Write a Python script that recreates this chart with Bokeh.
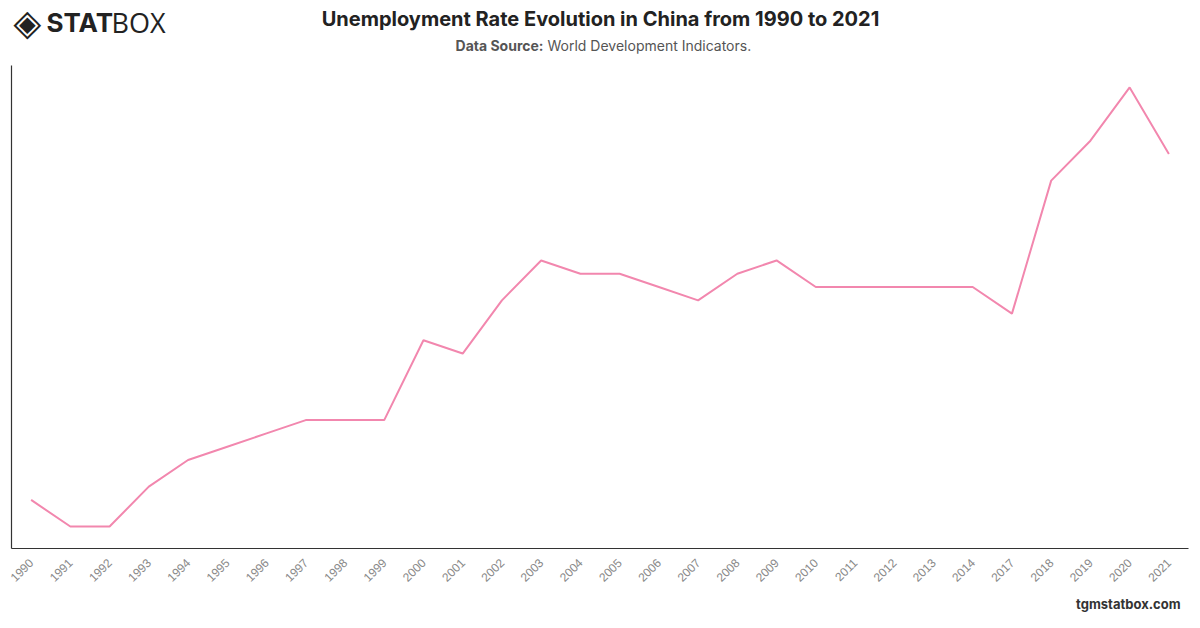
import math
from bokeh.plotting import figure
from bokeh.models import FactorRange, Range1d, Label
from bokeh.layouts import column
from bokeh.embed import file_html
from bokeh.resources import INLINE

years = ["1990", "1991", "1992", "1993", "1994", "1995", "1996", "1997", "1998", "1999",
         "2000", "2001", "2002", "2003", "2004", "2005", "2006", "2007", "2008", "2009",
         "2010", "2011", "2012", "2013", "2014", "2017", "2018", "2019", "2020", "2021"]
rates = [2.5, 2.3, 2.3, 2.6, 2.8, 2.9, 3.0, 3.1, 3.1, 3.1,
         3.7, 3.6, 4.0, 4.3, 4.2, 4.2, 4.1, 4.0, 4.2, 4.3,
         4.1, 4.1, 4.1, 4.1, 4.1, 3.9, 4.9, 5.2, 5.6, 5.1]

title_text = "Unemployment Rate Evolution in China from 1990 to 2021"
source_bold = "Data Source:"
source_rest = "World Development Indicators."
footer_text = "tgmstatbox.com"


def blank(h):
    f = figure(width=1200, height=h, x_range=Range1d(0, 1), y_range=Range1d(0, 1),
               output_backend="svg", toolbar_location=None,
               x_axis_location=None, y_axis_location=None,
               min_border=0, min_border_left=0, min_border_right=0,
               min_border_top=0, min_border_bottom=0)
    f.outline_line_color = None
    f.xgrid.grid_line_color = None
    f.ygrid.grid_line_color = None
    return f


def lab(f, x, y, text, size, color, style="normal", align="left", font="Liberation Sans"):
    f.add_layout(Label(x=x, y=y, x_units="canvas", y_units="canvas", text=text,
                       text_font_size=size, text_color=color, text_font_style=style,
                       text_align=align, text_baseline="middle", text_font=font))


header = blank(60)
lab(header, 600, 18, title_text, "20px", "#222222", "bold", "center", "Inter")
lab(header, 543, 45, source_bold, "14px", "#555555", "bold", "right", "Inter")
lab(header, 547, 45, source_rest, "14px", "#555555", "normal", "left", "Inter")
lab(header, 13, 22, "\u25c8", "36px", "#222222", "normal", "left", "DejaVu Sans")
lab(header, 46, 22, "STAT", "26px", "#222222", "bold", "left", "Inter")
lab(header, 111, 22, "BOX", "27px", "#222222", "normal", "left", "Open Sans")

p = figure(width=1200, height=533, x_range=FactorRange(*years),
           y_range=Range1d(2.135, 5.765), output_backend="svg",
           toolbar_location=None, min_border_left=11, min_border_right=12,
           min_border_top=5, min_border_bottom=45)
p.outline_line_color = None
p.xgrid.grid_line_color = None
p.ygrid.grid_line_color = None

p.line(years, rates, line_color="#f287ae", line_width=2)

for ax in p.xaxis:
    ax.axis_line_color = "#333333"
    ax.axis_line_width = 1.2
    ax.major_tick_line_color = None
    ax.major_tick_out = 0
    ax.major_tick_in = 0
    ax.minor_tick_line_color = None
    ax.major_label_orientation = math.pi / 4
    ax.major_label_text_color = "#888888"
    ax.major_label_text_font = "Liberation Sans"
    ax.major_label_text_font_size = "12px"
    ax.major_label_standoff = 12
for ax in p.yaxis:
    ax.axis_line_color = "#333333"
    ax.axis_line_width = 1.2
    ax.major_tick_line_color = None
    ax.major_tick_out = 0
    ax.major_tick_in = 0
    ax.minor_tick_line_color = None
    ax.major_label_text_font_size = "0px"
    ax.major_label_text_color = None

footer = blank(35)
lab(footer, 1180, 10, footer_text, "13px", "#333333", "bold", "right", "Inter")

layout = column(header, p, footer, spacing=0)
open("out.html", "w").write(file_html(layout, INLINE))
